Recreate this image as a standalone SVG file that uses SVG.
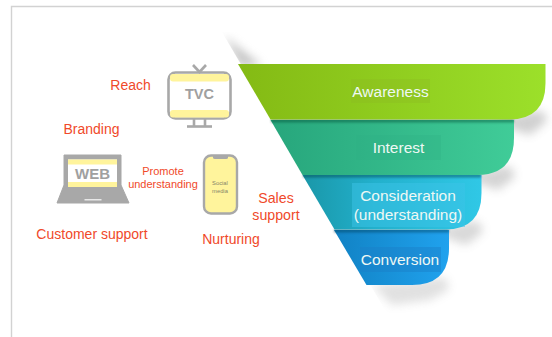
<svg xmlns="http://www.w3.org/2000/svg" width="552" height="337" viewBox="0 0 552 337">
<style>
.lbl{font-family:"Liberation Sans",Arial,sans-serif;fill:#f0492a;text-anchor:middle}
.w{font-family:"Liberation Sans",Arial,sans-serif;fill:#eef8f4;text-anchor:middle;font-size:15.5px}
.ic{fill:none;stroke:#a8a8a8;stroke-width:2.6}
.g{font-family:"Liberation Sans",Arial,sans-serif;fill:#a0a0a0;text-anchor:middle;font-weight:bold}
</style>
<defs>
<linearGradient id="gA" x1="0" x2="1" y1="0" y2="0"><stop offset="0" stop-color="#84ba14"/><stop offset="1" stop-color="#9ce02a"/></linearGradient>
<linearGradient id="gB" x1="0" x2="1" y1="0" y2="0"><stop offset="0" stop-color="#27a67c"/><stop offset="1" stop-color="#40cc98"/></linearGradient>
<linearGradient id="gC" x1="0" x2="1" y1="0" y2="0"><stop offset="0" stop-color="#1a97a8"/><stop offset="0.4" stop-color="#22b0cc"/><stop offset="1" stop-color="#30c8e6"/></linearGradient>
<linearGradient id="gD" x1="0" x2="1" y1="0" y2="0"><stop offset="0" stop-color="#1182c4"/><stop offset="1" stop-color="#20a2ee"/></linearGradient>
<filter id="b6" x="-40%" y="-40%" width="180%" height="180%"><feGaussianBlur stdDeviation="5"/></filter>
<filter id="b2" x="-30%" y="-100%" width="160%" height="300%"><feGaussianBlur stdDeviation="1.2"/></filter>
<clipPath id="rightSide"><polygon points="222,32 552,32 552,337 392,322"/></clipPath>
</defs>
<rect width="552" height="337" fill="#fff"/>
<path d="M11.5 337V6.5H552" fill="none" stroke="#d2d2d2" stroke-width="1.4"/>

<g id="shadows" clip-path="url(#rightSide)">
<polygon points="224,36 240,66 262,66" fill="#888" opacity=".5" filter="url(#b6)"/>
<path d="M530,112 Q548,108 546,122 L530,135 L490,122Z" fill="#666" opacity=".3" filter="url(#b6)"/>
<path d="M500,167 Q516,164 514,178 L498,190 L460,177Z" fill="#666" opacity=".28" filter="url(#b6)"/>
<path d="M468,222 Q484,219 482,233 L466,245 L430,232Z" fill="#666" opacity=".25" filter="url(#b6)"/>
<path d="M436,278 Q450,275 448,290 L430,300 L392,305 L372,285Z" fill="#777" opacity=".22" filter="url(#b6)"/>
</g>

<g id="connectors"></g>

<g id="stage-conversion">
<path d="M334,230H449V248Q449,285 412,285H366.500Z" fill="url(#gD)"/>
<rect x="334" y="229" width="115" height="3.500" fill="#063a55" opacity=".45" filter="url(#b2)"/>
<rect x="360" y="247" width="81" height="25" fill="#1b7fc8" opacity=".45"/>
<text class="w" x="400" y="265">Conversion</text>
</g>
<g id="stage-consideration">
<path d="M302.500,175H481.500V193Q481.500,229.500 445,229.500H334.500Z" fill="url(#gC)"/>
<rect x="303" y="174" width="178" height="3.500" fill="#063a45" opacity=".45" filter="url(#b2)"/>
<rect x="352" y="183" width="113" height="44" fill="#3cc4e8" opacity=".5"/>
<text class="w" x="408" y="201">Consideration</text>
<text class="w" x="408" y="220">(understanding)</text>
</g>
<g id="stage-interest">
<path d="M270.500,120H514V138Q514,175 477,175H302.500Z" fill="url(#gB)"/>
<rect x="271" y="119" width="243" height="3.500" fill="#064a35" opacity=".45" filter="url(#b2)"/>
<rect x="356" y="135" width="85" height="25" fill="#2fae84" opacity=".3"/>
<text class="w" x="398.500" y="153">Interest</text>
</g>
<g id="stage-awareness">
<path d="M238,64H545.500V83Q545.500,119.500 509,119.500H270.500Z" fill="url(#gA)"/>
<rect x="351" y="79" width="79" height="24" fill="#8cbb22" opacity=".35"/>
<text class="w" x="390.500" y="97">Awareness</text>
</g>

<g id="tv">
<rect x="168.500" y="72.500" width="62" height="46" rx="7" fill="#fff" class="ic"/>
<rect x="170" y="74" width="59" height="7.500" rx="3" fill="#fff49c"/>
<rect x="170" y="110" width="59" height="7.500" rx="3" fill="#fff49c"/>
<path class="ic" d="M193,65L199.500,72L206,65M194,119V126.500M205,119V126.500"/>
<path class="ic" d="M187,126.500H212"/>
<text class="g" x="199.500" y="99" font-size="14.500">TVC</text>
</g>
<g id="web">
<path d="M64,155H121V185L129,203H57L64,185Z" fill="#a8a8a8" stroke="#a8a8a8" stroke-linejoin="round"/>
<rect x="68" y="159.500" width="49" height="27.500" fill="#fff"/>
<rect x="68" y="159.500" width="49" height="5" fill="#fff49c"/>
<rect x="68" y="182" width="49" height="5" fill="#fff49c"/>
<rect x="84.500" y="199" width="17" height="1.500" fill="#e8e8e8"/>
<text class="g" x="92.500" y="179" font-size="15">WEB</text>
</g>
<g id="phone">
<rect x="204" y="155.500" width="33" height="58" rx="7" fill="#fff49c" stroke="#a8a8a8" stroke-width="2.400"/>
<path d="M213,155.500H228V157.500Q228,159 226,159H215Q213,159 213,157.500Z" fill="#a8a8a8"/>
<text x="220" y="185" font-family="Liberation Sans,Arial,sans-serif" font-size="5.800" fill="#85856a" text-anchor="middle">Social</text>
<text x="220" y="192.500" font-family="Liberation Sans,Arial,sans-serif" font-size="5.800" fill="#85856a" text-anchor="middle">media</text>
</g>

<g id="labels">
<text class="lbl" x="130.500" y="90" font-size="14">Reach</text>
<text class="lbl" x="91.500" y="134" font-size="14">Branding</text>
<text class="lbl" x="163" y="175" font-size="11">Promote</text>
<text class="lbl" x="163" y="188" font-size="11">understanding</text>
<text class="lbl" x="276" y="203" font-size="14.200">Sales</text>
<text class="lbl" x="276" y="220" font-size="14.200">support</text>
<text class="lbl" x="92" y="239" font-size="14">Customer support</text>
<text class="lbl" x="231" y="243.500" font-size="14">Nurturing</text>
</g>
</svg>
